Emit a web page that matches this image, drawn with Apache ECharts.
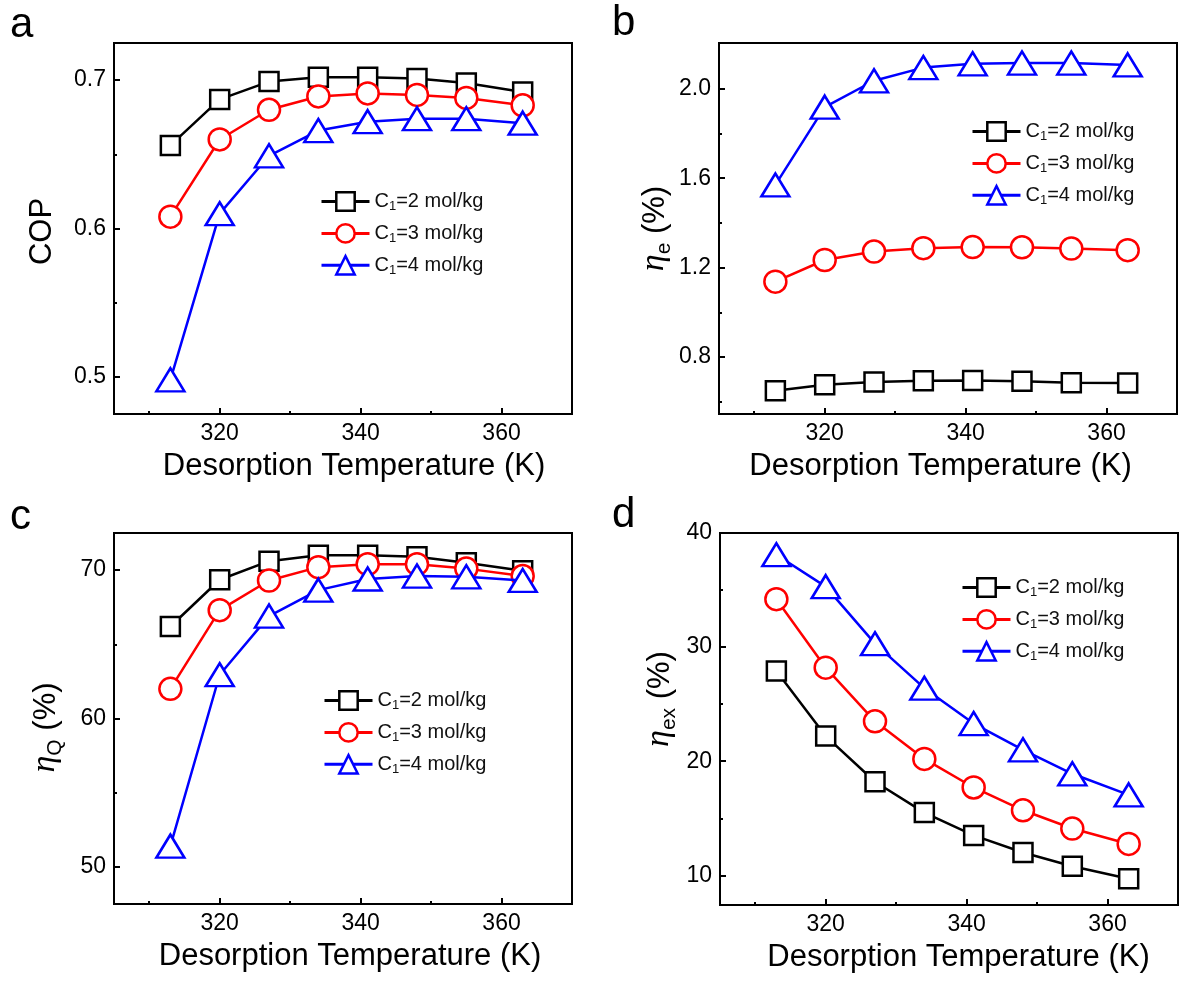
<!DOCTYPE html>
<html><head><meta charset="utf-8">
<script src="https://cdn.jsdelivr.net/npm/echarts@6/dist/echarts.min.js"></script>
<style>html,body{margin:0;padding:0;background:#fff}#c{width:1179px;height:981px}</style>
</head><body><div id="c"></div>
<script>
// ---------- data ----------
const temps = [313, 320, 327, 334, 341, 348, 355, 363];
const seriesNames = ['C1=2 mol/kg', 'C1=3 mol/kg', 'C1=4 mol/kg'];

const copC2 = [0.656, 0.687, 0.699, 0.702, 0.702, 0.701, 0.698, 0.692];
const copC3 = [0.608, 0.660, 0.680, 0.689, 0.691, 0.690, 0.688, 0.683];
const copC4 = [0.498, 0.610, 0.649, 0.666, 0.672, 0.674, 0.674, 0.671];

const etaEC2 = [0.649, 0.676, 0.688, 0.694, 0.695, 0.691, 0.685, 0.684];
const etaEC3 = [1.137, 1.234, 1.272, 1.287, 1.292, 1.291, 1.285, 1.278];
const etaEC4 = [1.570, 1.918, 2.036, 2.095, 2.112, 2.115, 2.115, 2.107];

const etaQC2 = [66.2, 69.35, 70.6, 71.0, 71.0, 70.9, 70.5, 69.95];
const etaQC3 = [62.0, 67.3, 69.3, 70.2, 70.4, 70.4, 70.1, 69.6];
const etaQC4 = [51.4, 62.95, 66.9, 68.65, 69.4, 69.6, 69.55, 69.3];

const etaExC2 = [27.9, 22.2, 18.2, 15.5, 13.5, 12.0, 10.8, 9.7];
const etaExC3 = [34.2, 28.2, 23.5, 20.2, 17.7, 15.7, 14.1, 12.75];
const etaExC4 = [38.1, 35.3, 30.3, 26.4, 23.3, 21.0, 18.9, 17.05];

const xTickLabels = [320, 340, 360];
const xMinorTicks = [310, 330, 350];
const copTickLabels = [0.5, 0.6, 0.7];
const copMinorTicks = [0.55, 0.65];
const etaETickLabels = [0.8, 1.2, 1.6, 2.0];
const etaEMinorTicks = [0.6, 1.0, 1.4, 1.8];
const etaQTickLabels = [50, 60, 70];
const etaQMinorTicks = [55, 65];
const etaExTickLabels = [10, 20, 30, 40];
const etaExMinorTicks = [15, 25, 35];
const panelLetters = ['a', 'b', 'c', 'd'];

// ---------- layout / style ----------
const FONT = 'Liberation Sans, Arial, sans-serif';
const colors = ['#000000', '#ff0000', '#0000ff'];
const symbols = ['rect', 'circle', 'triangle'];
const symbolSizes = [19, 22, [28, 23]];

const panels = [
  { grid: {left: 114, top: 43, width: 458, height: 371},
    series: [copC2, copC3, copC4], ymin: 0.475, ymax: 0.725,
    yLabels: copTickLabels, yMinor: copMinorTicks, yFmt: v => v.toFixed(1),
    yName: '{n|COP}', yGap: 56, yPad: [0, 6, 0, 0], xPad: [0, 0, 0, 22],
    legend: {left: 320, top: 191}, letter: {left: 10, top: 4} },
  { grid: {left: 719, top: 43, width: 458, height: 371},
    series: [etaEC2, etaEC3, etaEC4], ymin: 0.545, ymax: 2.205,
    yLabels: etaETickLabels, yMinor: etaEMinorTicks, yFmt: v => v.toFixed(1),
    yName: '{eta|η}{sub|e}{n| (%)}', yGap: 46, yPad: [0, 0, 0, 0], xPad: [0, 15, 0, 0],
    legend: {left: 971, top: 121}, letter: {left: 612, top: 2} },
  { grid: {left: 114, top: 533, width: 458, height: 371},
    series: [etaQC2, etaQC3, etaQC4], ymin: 47.5, ymax: 72.5,
    yLabels: etaQTickLabels, yMinor: etaQMinorTicks, yFmt: v => String(v),
    yName: '{eta|η}{sub|Q}{n| (%)}', yGap: 52, yPad: [0, 18, 0, 0], xPad: [0, 0, 0, 14],
    legend: {left: 323, top: 690}, letter: {left: 10, top: 496} },
  { grid: {left: 720, top: 533, width: 458, height: 372},
    series: [etaExC2, etaExC3, etaExC4], ymin: 7.4, ymax: 40,
    yLabels: etaExTickLabels, yMinor: etaExMinorTicks, yFmt: v => String(v),
    yName: '{eta|η}{sub|ex}{n| (%)}', yGap: 44, yPad: [0, 0, 0, 40], xPad: [0, 0, 0, 19],
    legend: {left: 961, top: 577}, letter: {left: 612, top: 494} }
];

const nameRich = {
  n: {fontSize: 31, fontFamily: FONT, color: '#000', lineHeight: 36, verticalAlign: 'bottom'},
  eta: {fontSize: 34, fontFamily: 'Liberation Serif, serif', fontStyle: 'italic', color: '#000', lineHeight: 36, verticalAlign: 'bottom'},
  sub: {fontSize: 21, fontFamily: FONT, color: '#000', lineHeight: 22, verticalAlign: 'bottom', padding: [0, 0, -4, 0]}
};

const grids = [], xAxes = [], yAxes = [], series = [], legends = [], graphics = [];
panels.forEach((p, i) => {
  grids.push(Object.assign({show: true, borderColor: '#000', borderWidth: 2, containLabel: false}, p.grid));
  // major x axis
  xAxes.push({
    gridIndex: i, type: 'value', min: 305, max: 370, position: 'bottom',
    axisLine: {show: false}, splitLine: {show: false},
    axisTick: {show: true, inside: true, length: 6, lineStyle: {color: '#000', width: 2}, customValues: xTickLabels},
    axisLabel: {customValues: xTickLabels, fontSize: 23, fontFamily: FONT, color: '#000', margin: 8},
    name: 'Desorption Temperature (K)', nameLocation: 'middle', nameGap: 37,
    nameTextStyle: {fontSize: 31, fontFamily: FONT, color: '#000', padding: p.xPad}
  });
  // minor x ticks
  xAxes.push({
    gridIndex: i, type: 'value', min: 305, max: 370, position: 'bottom', offset: 0,
    axisLine: {show: false}, splitLine: {show: false}, axisLabel: {show: false},
    axisTick: {show: true, inside: true, length: 3, lineStyle: {color: '#000', width: 2}, customValues: xMinorTicks}
  });
  yAxes.push({
    gridIndex: i, type: 'value', min: p.ymin, max: p.ymax, position: 'left',
    axisLine: {show: false}, splitLine: {show: false},
    axisTick: {show: true, inside: true, length: 6, lineStyle: {color: '#000', width: 2}, customValues: p.yLabels},
    axisLabel: {customValues: p.yLabels, formatter: p.yFmt, fontSize: 23, fontFamily: FONT, color: '#000', margin: 8},
    name: p.yName, nameLocation: 'middle', nameGap: p.yGap, nameRotate: 90,
    nameTextStyle: {rich: nameRich, padding: p.yPad}
  });
  yAxes.push({
    gridIndex: i, type: 'value', min: p.ymin, max: p.ymax, position: 'left', offset: 0,
    axisLine: {show: false}, splitLine: {show: false}, axisLabel: {show: false},
    axisTick: {show: true, inside: true, length: 3, lineStyle: {color: '#000', width: 2}, customValues: p.yMinor}
  });
  p.series.forEach((arr, k) => {
    series.push({
      type: 'line', name: seriesNames[k], xAxisIndex: 2 * i, yAxisIndex: 2 * i,
      data: temps.map((t, j) => [t, arr[j]]),
      symbol: symbols[k], symbolSize: symbolSizes[k], showAllSymbol: true,
      lineStyle: {color: colors[k], width: 2.5},
      itemStyle: {color: '#fff', borderColor: colors[k], borderWidth: 2.5},
      z: 3 + k, animation: false
    });
  });
  legends.push({
    data: seriesNames, orient: 'vertical', left: p.legend.left, top: p.legend.top,
    itemWidth: 48, itemHeight: 23, itemGap: 10, padding: 0, itemTextGap: 6,
    selectedMode: false,
    itemStyle: {borderWidth: 2.5},
    lineStyle: {width: 3},
    formatter: name => '{n|C}{s|1}{n|' + name.slice(2) + '}',
    textStyle: {
      fontFamily: FONT, fontSize: 20, color: '#111',
      rich: {
        n: {fontFamily: FONT, fontSize: 20, color: '#111', lineHeight: 23},
        s: {fontFamily: FONT, fontSize: 13, color: '#111', lineHeight: 14, verticalAlign: 'bottom'}
      }
    }
  });
  graphics.push({
    type: 'text', left: p.letter.left, top: p.letter.top,
    style: {text: panelLetters[i], fontSize: 42, fontFamily: FONT, fill: '#000'}
  });
});

const chart = echarts.init(document.getElementById('c'), null, {renderer: 'canvas'});
chart.setOption({
  backgroundColor: '#fff',
  animation: false,
  grid: grids, xAxis: xAxes, yAxis: yAxes, series: series, legend: legends, graphic: graphics
});
</script>
</body></html>
